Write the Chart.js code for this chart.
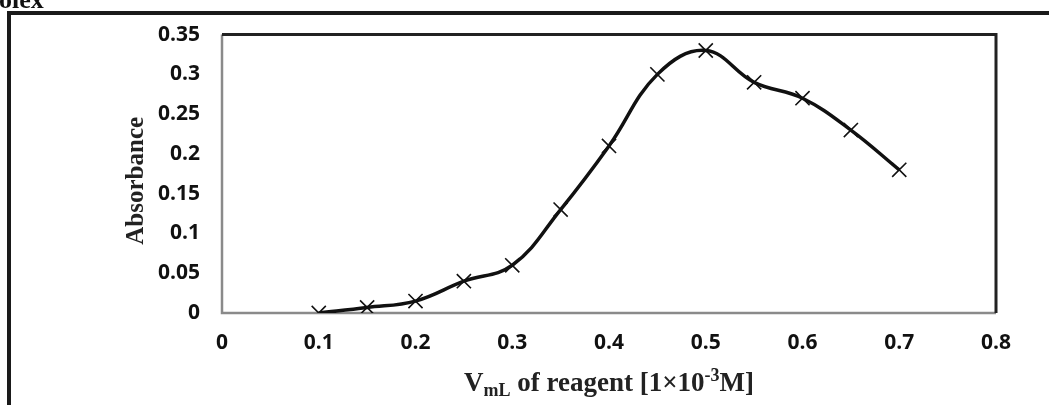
<!DOCTYPE html>
<html>
<head>
<meta charset="utf-8">
<script src="https://cdn.jsdelivr.net/npm/chart.js@4.4.1/dist/chart.umd.min.js"></script>
<style>
html,body{margin:0;padding:0;background:#fff;}
#wrap{position:relative;width:1049px;height:405px;}
</style>
</head>
<body>
<div id="wrap"><canvas id="c" width="1049" height="405"></canvas></div>
<script>
// ---- Data ----
const volumes = [0.1, 0.15, 0.2, 0.25, 0.3, 0.35, 0.4, 0.45, 0.5, 0.55, 0.6, 0.65, 0.7];
const absorbance = [0, 0.007, 0.015, 0.04, 0.06, 0.13, 0.21, 0.30, 0.33, 0.29, 0.27, 0.23, 0.18];
const xTickValues = [0, 0.1, 0.2, 0.3, 0.4, 0.5, 0.6, 0.7, 0.8];
const yTickValues = [0, 0.05, 0.1, 0.15, 0.2, 0.25, 0.3, 0.35];
const yTitle = 'Absorbance';
const xTitleParts = [
  {t: 'V', mode: 'n'},
  {t: 'mL', mode: 'sub'},
  {t: ' of reagent [1×10', mode: 'n'},
  {t: '-3', mode: 'sup'},
  {t: 'M]', mode: 'n'}
];
const cornerText = 'olex';

const points = volumes.map((v, i) => ({x: v, y: absorbance[i]}));

const framePlugin = {
  id: 'frame',
  beforeDraw(chart) {
    const ctx = chart.ctx;
    ctx.save();
    ctx.fillStyle = '#fff';
    ctx.fillRect(0, 0, chart.width, chart.height);
    // outer border
    ctx.strokeStyle = '#1a1a1a';
    ctx.lineWidth = 4;
    ctx.beginPath();
    ctx.moveTo(9, 405);
    ctx.lineTo(9, 13);
    ctx.lineTo(1049, 13);
    ctx.stroke();
    // corner text
    ctx.fillStyle = '#111';
    ctx.font = 'bold 26px "Liberation Serif", serif';
    ctx.textBaseline = 'alphabetic';
    ctx.textAlign = 'left';
    ctx.fillText(cornerText, -1, 8);
    ctx.restore();
  },
  beforeDatasetsDraw(chart) {
    const {ctx, chartArea: a} = chart;
    ctx.save();
    // left & bottom gray
    ctx.strokeStyle = '#8a8a8a';
    ctx.lineWidth = 2.5;
    ctx.beginPath();
    ctx.moveTo(a.left, a.top);
    ctx.lineTo(a.left, a.bottom);
    ctx.lineTo(a.right, a.bottom);
    ctx.stroke();
    // top & right dark
    ctx.strokeStyle = '#222';
    ctx.lineWidth = 3;
    ctx.beginPath();
    ctx.moveTo(a.left, a.top);
    ctx.lineTo(a.right, a.top);
    ctx.lineTo(a.right, a.bottom);
    ctx.stroke();
    ctx.restore();
  },
  afterDraw(chart) {
    const {ctx, chartArea: a} = chart;
    ctx.save();
    ctx.fillStyle = '#222';
    // y title
    ctx.font = 'bold 25px "Liberation Serif", serif';
    ctx.translate(143, (a.top + a.bottom) / 2 + 7);
    ctx.rotate(-Math.PI / 2);
    ctx.textAlign = 'center';
    ctx.textBaseline = 'alphabetic';
    ctx.fillText(yTitle, 0, 0);
    ctx.restore();

    // x title with sub/superscript
    ctx.save();
    ctx.fillStyle = '#222';
    ctx.textAlign = 'left';
    ctx.textBaseline = 'alphabetic';
    const base = 27, small = 18;
    const fontFor = m => 'bold ' + (m === 'n' ? base : small) + 'px "Liberation Serif", serif';
    let total = 0;
    xTitleParts.forEach(p => { ctx.font = fontFor(p.mode); total += ctx.measureText(p.t).width; });
    let x = (a.left + a.right) / 2 - total / 2;
    const baseline = 391;
    xTitleParts.forEach(p => {
      ctx.font = fontFor(p.mode);
      const dy = p.mode === 'sub' ? 5 : (p.mode === 'sup' ? -10 : 0);
      ctx.fillText(p.t, x, baseline + dy);
      x += ctx.measureText(p.t).width;
    });
    ctx.restore();
  }
};

const tickFont = {family: '"Open Sans", Lato, sans-serif', size: 21, weight: 'bold'};
const fmt = v => String(+(+v).toFixed(2));

new Chart(document.getElementById('c'), {
  type: 'line',
  data: {
    datasets: [{
      data: points,
      borderColor: '#111',
      borderWidth: 3.5,
      tension: 0.4,
      fill: false,
      pointStyle: 'crossRot',
      pointRadius: 10,
      pointBorderWidth: 1.6,
      pointBorderColor: '#111',
      pointBackgroundColor: '#111'
    }]
  },
  options: {
    responsive: false,
    animation: false,
    devicePixelRatio: 1,
    layout: {padding: {top: 33, right: 53, left: 0, bottom: 0}},
    plugins: {legend: {display: false}, tooltip: {enabled: false}},
    scales: {
      x: {
        type: 'linear',
        min: 0, max: 0.8,
        grid: {display: false, drawTicks: false},
        border: {display: false},
        afterBuildTicks: s => { s.ticks = xTickValues.map(v => ({value: v})); },
        afterFit: s => { s.height = 92; },
        ticks: {font: tickFont, color: '#111', padding: 17, maxRotation: 0, autoSkip: false, callback: fmt}
      },
      y: {
        type: 'linear',
        min: 0, max: 0.35,
        grid: {display: false, drawTicks: false},
        border: {display: false},
        afterBuildTicks: s => { s.ticks = yTickValues.map(v => ({value: v})); },
        afterFit: s => { s.width = 222; },
        ticks: {font: tickFont, color: '#111', padding: 22, autoSkip: false, callback: fmt}
      }
    }
  },
  plugins: [framePlugin]
});
</script>
</body>
</html>
